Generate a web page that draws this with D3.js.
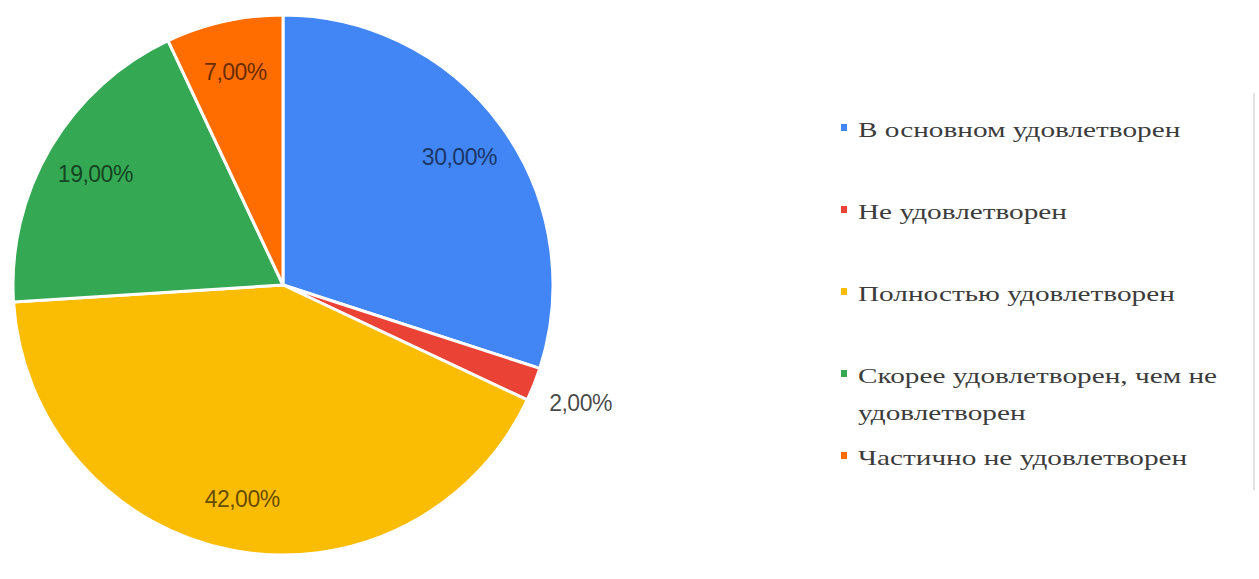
<!DOCTYPE html>
<html>
<head>
<meta charset="utf-8">
<script src="https://cdn.jsdelivr.net/npm/d3@7"></script>
<style>
  body { margin: 0; background: #fff; }
  svg { display: block; }
</style>
</head>
<body>
<svg id="chart" width="1259" height="579"></svg>
<script>
// answers of the survey, in the order they go round the pie
const categories = [
    "В основном удовлетворен",
    "Не удовлетворен",
    "Полностью удовлетворен",
    "Скорее удовлетворен, чем не удовлетворен",
    "Частично не удовлетворен"
];
const values = [30, 2, 42, 19, 7];
const valueLabels = ["30,00%", "2,00%", "42,00%", "19,00%", "7,00%"];
const legendLines = [
    ["В основном удовлетворен"],
    ["Не удовлетворен"],
    ["Полностью удовлетворен"],
    ["Скорее удовлетворен, чем не", "удовлетворен"],
    ["Частично не удовлетворен"]
];
const colors = ["#4285F4", "#EA4335", "#FBBC04", "#34A853", "#FF6D01"];

const svg = d3.select("#chart");
const cx = 283, cy = 285, radius = 270;

const pie = d3.pie().sort(null).value(d => d.value);
const slices = pie(categories.map((c, i) => ({ name: c, value: values[i], label: valueLabels[i] })));
const color = d3.scaleOrdinal().domain(categories).range(colors);

const arc = d3.arc().innerRadius(0).outerRadius(radius);
const labelArc = d3.arc().innerRadius(218).outerRadius(218);
const outsideArc = d3.arc().innerRadius(320).outerRadius(320);

const g = svg.append("g").attr("transform", "translate(" + cx + "," + cy + ")");

g.selectAll("path")
    .data(slices)
    .enter()
    .append("path")
    .attr("d", arc)
    .attr("fill", d => color(d.data.name))
    .attr("stroke", "#fff")
    .attr("stroke-width", 3)
    .attr("stroke-linejoin", "round");

// small slices get their label outside the pie
g.selectAll("text.val")
    .data(slices)
    .enter()
    .append("text")
    .attr("class", "val")
    .attr("transform", d => {
        const small = d.data.value < 5;
        const p = (small ? outsideArc : labelArc).centroid(d);
        return "translate(" + p[0] + "," + p[1] + ")";
    })
    .attr("text-anchor", "middle")
    .attr("dy", "0.35em")
    .style("font-family", "'Liberation Sans', Arial, sans-serif")
    .style("font-size", "23px")
    .style("letter-spacing", "-0.5px")
    .attr("fill", "#000")
    .attr("fill-opacity", d => d.data.value < 5 ? 0.72 : 0.62)
    .text(d => d.data.label);

// legend - the serif text in the picture is drawn wide, hence the x scale
const legendX = 841, legendY = 137, rowStep = 82, wrapStep = 37;
const legend = svg.append("g");
const rows = legend.selectAll("g")
    .data(categories)
    .enter()
    .append("g")
    .attr("transform", (d, i) => "translate(" + legendX + "," + (legendY + i * rowStep) + ")");

rows.append("rect")
    .attr("x", 0)
    .attr("y", -13)
    .attr("width", 6)
    .attr("height", 7)
    .attr("fill", d => color(d));

rows.append("text")
    .attr("transform", "translate(17,0) scale(1.33,1)")
    .style("font-family", "'Liberation Serif', 'Times New Roman', serif")
    .style("font-size", "22px")
    .attr("fill", "#3c3c3c")
    .selectAll("tspan")
    .data((d, i) => legendLines[i])
    .enter()
    .append("tspan")
    .attr("x", 0)
    .attr("dy", (d, j) => j === 0 ? 0 : wrapStep)
    .text(d => d);

// faint border of the neighbouring table
svg.append("line")
    .attr("x1", 1254).attr("x2", 1254)
    .attr("y1", 93).attr("y2", 490)
    .attr("stroke", "#e2e2e2")
    .attr("stroke-width", 2);
</script>
</body>
</html>
